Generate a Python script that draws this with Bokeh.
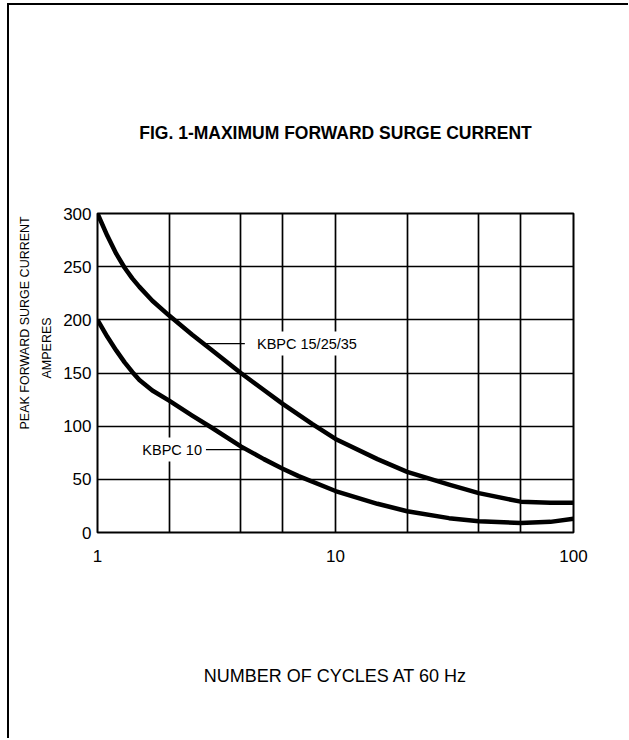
from bokeh.plotting import figure
from bokeh.models import FixedTicker, Label, Range1d, Title, Div
from bokeh.layouts import row, column
from bokeh.embed import file_html
from bokeh.resources import INLINE

# ---- data ----
title_text = "FIG. 1-MAXIMUM FORWARD SURGE CURRENT"
y_label_1 = "PEAK FORWARD SURGE CURRENT"
y_label_2 = "AMPERES"
x_label = "NUMBER OF CYCLES AT 60 Hz"

x_major_ticks = [1, 10, 100]
x_minor_ticks = [2, 4, 6, 20, 40, 60]
y_ticks = [0, 50, 100, 150, 200, 250, 300]

cycles_kbpc15 = [1, 1.1, 1.2, 1.3, 1.4, 1.5, 1.7, 2, 2.5, 3, 4, 5, 6, 8, 10, 15, 20, 30, 40, 60, 80, 100]
amps_kbpc15 = [300, 279, 262, 249, 239, 231, 218, 204, 186, 172, 150, 134, 121, 102, 88, 69, 57, 45, 37, 29, 28, 28]

cycles_kbpc10 = [1, 1.1, 1.2, 1.3, 1.4, 1.5, 1.7, 2, 2.5, 3, 4, 5, 6, 7, 10, 15, 20, 30, 40, 60, 80, 100]
amps_kbpc10 = [200, 184, 171, 160, 151, 143.5, 133.5, 124, 110, 99, 81, 69, 60, 53, 39, 27, 20, 13.5, 10.5, 9, 10, 13]

label_names = ["KBPC 15/25/35", "KBPC 10"]
label_x = [4.5, 1.484]
label_y = [177.7, 78.0]
leader_x = [[2.75, 4.16], [2.80, 4.12]]
leader_y = [[177.7, 177.7], [78.0, 78.0]]

FONT = "Liberation Sans"
ROW_H = 733
BORDER_TOP = 208
BORDER_BOTTOM = 206

# ---- page frame rules ----
top_rule = Div(width=621, height=2, margin=(3, 0, 0, 7), styles={"background-color": "black"})
left_rule = Div(width=2, height=ROW_H, margin=(0, 0, 0, 7), styles={"background-color": "black"})

# ---- narrow strip holding the rotated y-axis title (its frame lines up with the chart frame) ----
ylab = figure(
    width=50, height=ROW_H, x_range=Range1d(0, 50), y_range=Range1d(0, 319),
    x_axis_location=None, y_axis_location=None,
    output_backend="svg", toolbar_location=None,
    min_border_left=0, min_border_right=0,
    min_border_top=BORDER_TOP, min_border_bottom=BORDER_BOTTOM,
    background_fill_color="white", border_fill_color="white",
)
ylab.outline_line_color = None
ylab.xgrid.visible = False
ylab.ygrid.visible = False
ylab.add_layout(Label(x=15, y=103, text=y_label_1, angle=90, angle_units="deg",
                      text_align="left", text_baseline="middle", text_font=FONT,
                      text_font_size="12.5px", text_color="black"))
ylab.add_layout(Label(x=37, y=154, text=y_label_2, angle=90, angle_units="deg",
                      text_align="left", text_baseline="middle", text_font=FONT,
                      text_font_size="12.5px", text_color="black"))

# ---- main chart ----
p = figure(
    width=569, height=ROW_H,
    x_axis_type="log",
    x_range=Range1d(1, 100), y_range=Range1d(0, 300),
    output_backend="svg", toolbar_location=None,
    min_border_left=38, min_border_right=55,
    min_border_top=BORDER_TOP, min_border_bottom=BORDER_BOTTOM,
    background_fill_color="white", border_fill_color="white",
)
p.outline_line_color = "black"
p.outline_line_width = 2

p.add_layout(Title(text=title_text, align="center", text_font=FONT, text_font_size="17.5px",
                   text_font_style="bold", text_color="black", standoff=141), "above")

p.xaxis.ticker = FixedTicker(ticks=x_major_ticks, minor_ticks=x_minor_ticks)
p.yaxis.ticker = FixedTicker(ticks=y_ticks)
for ax in (p.xaxis, p.yaxis):
    ax.axis_line_color = None
    ax.major_tick_line_color = None
    ax.minor_tick_line_color = None
    ax.major_tick_in = 0
    ax.major_tick_out = 0
    ax.minor_tick_in = 0
    ax.minor_tick_out = 0
    ax.major_label_text_font = FONT
    ax.major_label_text_font_size = "17px"
    ax.major_label_text_color = "black"
p.xaxis.major_label_standoff = 17
p.yaxis.major_label_standoff = 6
p.xaxis.major_label_overrides = {1: "1", 10: "10", 100: "100"}

p.xaxis.axis_label = x_label
p.xaxis.axis_label_text_font = FONT
p.xaxis.axis_label_text_font_size = "18px"
p.xaxis.axis_label_text_font_style = "normal"
p.xaxis.axis_label_text_color = "black"
p.xaxis.axis_label_standoff = 101

p.xgrid.grid_line_color = "black"
p.xgrid.grid_line_width = 1.7
p.xgrid.minor_grid_line_color = "black"
p.xgrid.minor_grid_line_width = 1.7
p.ygrid.grid_line_color = "black"
p.ygrid.grid_line_width = 1.7

p.line(cycles_kbpc15, amps_kbpc15, line_color="black", line_width=4.5, line_join="round")
p.line(cycles_kbpc10, amps_kbpc10, line_color="black", line_width=4.5, line_join="round")

for lx, ly in zip(leader_x, leader_y):
    p.line(lx, ly, line_color="black", line_width=1.2)

for name, lx, ly in zip(label_names, label_x, label_y):
    p.add_layout(Label(
        x=lx, y=ly, text=name, text_align="left", text_baseline="middle",
        text_font=FONT, text_font_size="14.5px", text_color="black",
        background_fill_color="white", padding=4,
    ))

layout = column(top_rule, row(left_rule, ylab, p, spacing=0), spacing=0)

open("out.html", "w").write(file_html(layout, INLINE))
